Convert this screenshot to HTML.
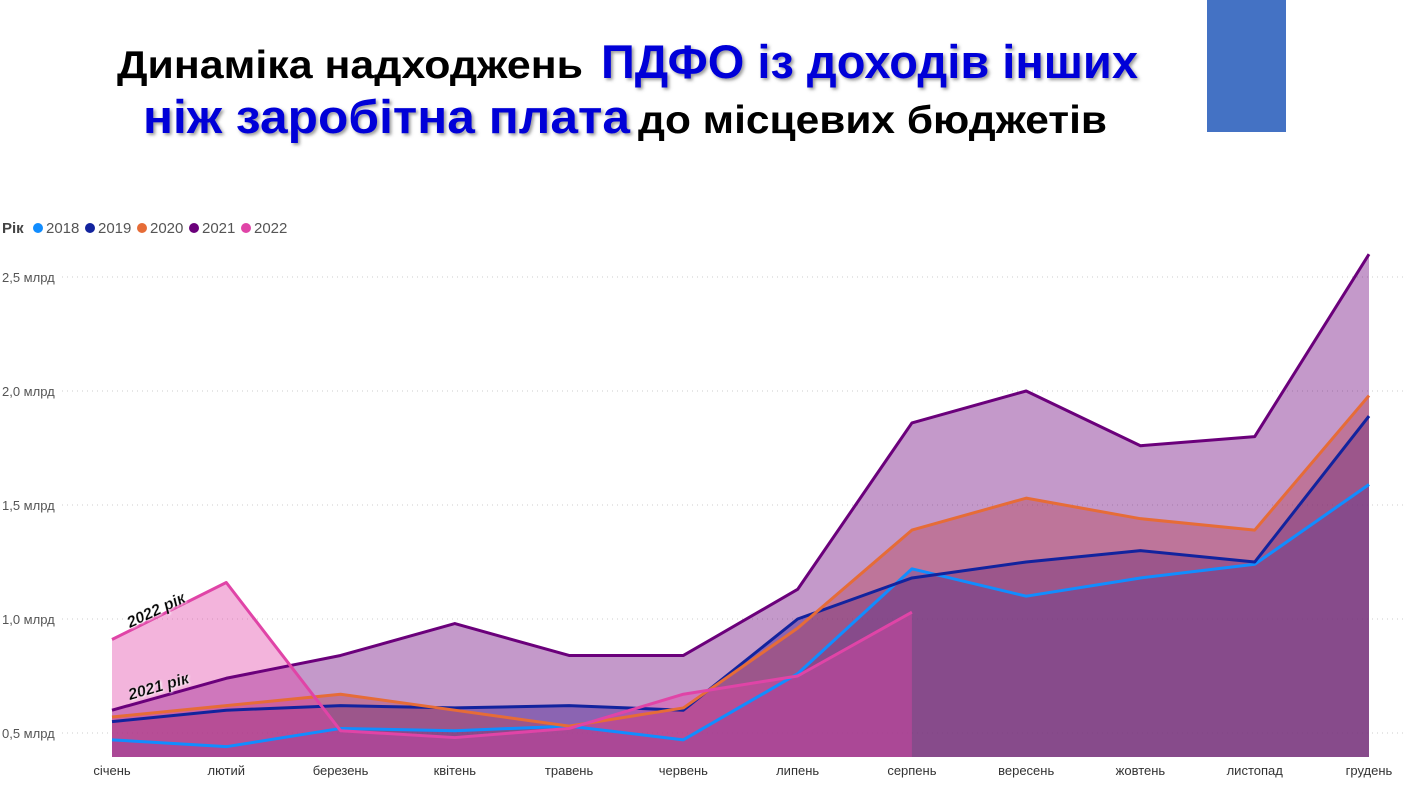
<!DOCTYPE html>
<html><head><meta charset="utf-8">
<style>
body{margin:0;background:#fff;width:1410px;height:793px;overflow:hidden;font-family:"Liberation Sans","DejaVu Sans",sans-serif}
svg{position:absolute;left:0;top:0}
</style></head>
<body>
<svg width="1410" height="793" id="chart">
<defs>
<filter id="sh" x="-5%" y="-20%" width="110%" height="140%"><feDropShadow dx="2" dy="2" stdDeviation="1.5" flood-color="#555" flood-opacity="0.6"/></filter>
<filter id="wh"><feDropShadow dx="1" dy="1" stdDeviation="1" flood-color="#fff" flood-opacity="1"/></filter>
</defs>
<rect x="1207" y="0" width="79" height="132" fill="#4472C4"/>
<g font-weight="bold">
<text x="117" y="78" font-size="39" fill="#000" textLength="466" lengthAdjust="spacingAndGlyphs">Динаміка надходжень</text>
<text x="601" y="78" font-size="47" fill="#0000d8" filter="url(#sh)" textLength="537" lengthAdjust="spacingAndGlyphs">ПДФО із доходів інших</text>
<text x="143" y="133" font-size="47" fill="#0000d8" filter="url(#sh)" textLength="487" lengthAdjust="spacingAndGlyphs">ніж заробітна плата</text>
<text x="638" y="133" font-size="39" fill="#000" textLength="469" lengthAdjust="spacingAndGlyphs">до місцевих бюджетів</text>
</g>
<g id="legend" font-size="15" fill="#555"></g>
<g id="grid"></g>
<g id="areas"></g>
<g id="lines"></g>
<g id="xlabels" font-size="13" fill="#333"></g>
<text x="130" y="628" font-size="16" font-weight="bold" font-style="italic" fill="#000" filter="url(#wh)" transform="rotate(-25 130 628)">2022 рік</text>
<text x="130" y="700" font-size="16" font-weight="bold" font-style="italic" fill="#000" filter="url(#wh)" transform="rotate(-16 130 700)">2021 рік</text>
</svg>
<script>
const months=["січень","лютий","березень","квітень","травень","червень","липень","серпень","вересень","жовтень","листопад","грудень"];
const years=["2018","2019","2020","2021","2022"];
const colors=["#118DFF","#12239E","#E66C37","#6B007B","#E044A7"];
const v2018=[0.47,0.44,0.52,0.51,0.53,0.47,0.76,1.22,1.10,1.18,1.24,1.59];
const v2019=[0.55,0.60,0.62,0.61,0.62,0.60,1.00,1.18,1.25,1.30,1.25,1.89];
const v2020=[0.57,0.62,0.67,0.60,0.53,0.61,0.96,1.39,1.53,1.44,1.39,1.98];
const v2021=[0.60,0.74,0.84,0.98,0.84,0.84,1.13,1.86,2.00,1.76,1.80,2.60];
const v2022=[0.91,1.16,0.51,0.48,0.52,0.67,0.75,1.03];
const yTicks=[0.5,1.0,1.5,2.0,2.5];
const yTickLabels=["0,5 млрд","1,0 млрд","1,5 млрд","2,0 млрд","2,5 млрд"];
const series=[v2018,v2019,v2020,v2021,v2022];
const NS="http://www.w3.org/2000/svg";
const x=i=>112+i*(1369-112)/11;
const y=v=>847-v*228;
const base=757;
function mk(t,a,p){const e=document.createElementNS(NS,t);for(const k in a)e.setAttribute(k,a[k]);p.appendChild(e);return e;}
const lg=document.getElementById('legend');
let t=mk('text',{x:2,y:233,'font-weight':'bold',fill:'#444'},lg);t.textContent='Рік';
let lx=38;
years.forEach((yr,i)=>{
 const c=mk('circle',{cx:lx,cy:228,r:5,fill:colors[i]},lg);
 
 
 const tt=mk('text',{x:lx+8,y:233},lg);tt.textContent=yr;
 
 
 lx+=52;
});
const g=document.getElementById('grid');
yTicks.forEach((v,i)=>{
 const l=mk('line',{x1:62,x2:1405,y1:y(v),y2:y(v),stroke:'#ccc','stroke-dasharray':'1 4'},g);
 
 
 const tx=mk('text',{x:2,y:y(v)+5,'font-size':13,fill:'#555'},g);tx.textContent=yTickLabels[i];
 
 
});
const ag=document.getElementById('areas'),lgp=document.getElementById('lines');
series.forEach((s,k)=>{
 const pts=s.map((v,i)=>x(i)+','+y(v)).join(' ');
 const a=mk('polygon',{points:x(0)+','+base+' '+pts+' '+x(s.length-1)+','+base,fill:colors[k],'fill-opacity':0.4},ag);
 
 
 const l=mk('polyline',{points:pts,fill:'none',stroke:colors[k],'stroke-width':3,'stroke-linejoin':'round'},lgp);
 
 
});
const xl=document.getElementById('xlabels');
months.forEach((m,i)=>{
 const tx=mk('text',{x:x(i),y:775,'text-anchor':'middle'},xl);tx.textContent=m;
 
 
});
</script>
</body></html>
